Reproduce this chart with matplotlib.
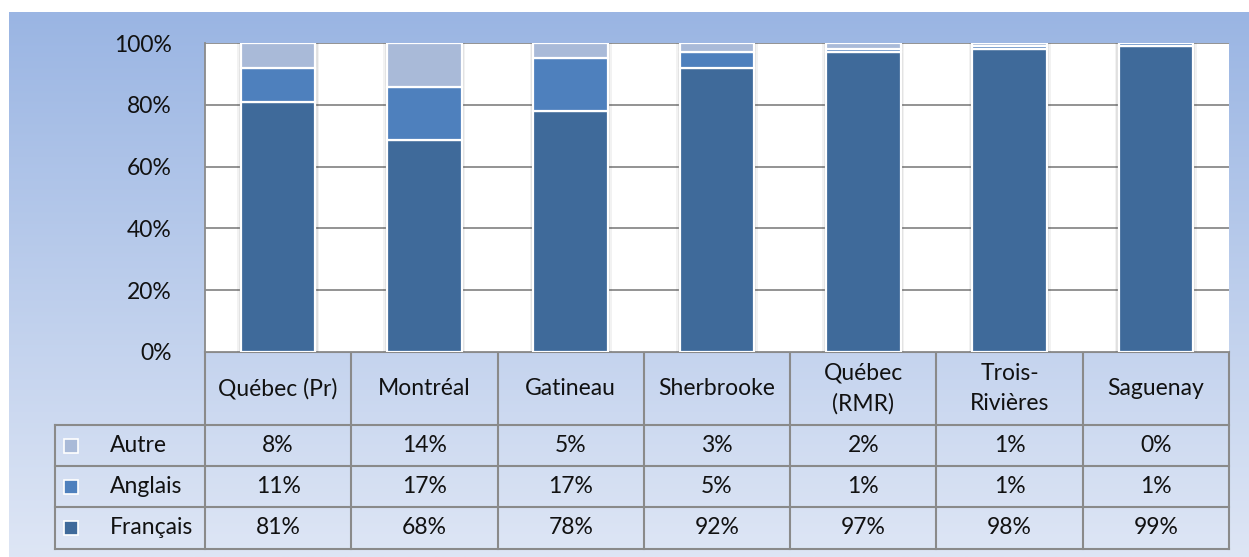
import numpy as np
import matplotlib
matplotlib.use("Agg")
import matplotlib.pyplot as plt
from matplotlib.patches import Rectangle

plt.rcParams['font.family'] = ['Lato', 'DejaVu Sans']

# ---- data ----
categories = ["Québec (Pr)", "Montréal", "Gatineau", "Sherbrooke",
              "Québec\n(RMR)", "Trois-\nRivières", "Saguenay"]
series_names = ["Autre", "Anglais", "Français"]
francais = [81, 68, 78, 92, 97, 98, 99]
anglais = [11, 17, 17, 5, 1, 1, 1]
autre = [8, 14, 5, 3, 2, 1, 0]
yticks = [0, 20, 40, 60, 80, 100]
ytick_labels = ["0%", "20%", "40%", "60%", "80%", "100%"]

colors = {"Français": "#3F6A9A", "Anglais": "#4E80BD", "Autre": "#A9BAD8"}

W, H = 1249, 557
fig = plt.figure(figsize=(W / 100, H / 100), dpi=100)
fig.patch.set_facecolor("white")

# background axes in pixel coordinates
bg = fig.add_axes([0, 0, 1, 1])
bg.set_xlim(0, W)
bg.set_ylim(H, 0)
bg.axis("off")
top_c = np.array([154, 181, 227]) / 255
bot_c = np.array([222, 230, 245]) / 255
t = np.linspace(0, 1, 256)[:, None]
grad = top_c[None, None, :] * (1 - t[:, :, None]) + bot_c[None, None, :] * t[:, :, None]
grad = np.repeat(grad, 2, axis=1)
bg.imshow(grad, extent=[9, W, H, 12], aspect="auto", zorder=0, interpolation="bilinear")

# main chart layout (pixels)
px_left, px_right = 205, 1229
px_top, px_bottom = 43, 352
ax = fig.add_axes([px_left / W, (H - px_bottom) / H,
                   (px_right - px_left) / W, (px_bottom - px_top) / H])
ax.set_facecolor("white")
n = len(categories)
x = np.arange(n)
ax.set_xlim(-0.5, n - 0.5)
ax.set_ylim(0, 100)

fr = np.array(francais, float)
an = np.array(anglais, float)
au = np.array(autre, float)
tot = fr + an + au
frn, ann, aun = fr / tot * 100, an / tot * 100, au / tot * 100

bw = 0.51
# soft shadow
for k, a in [(0.05, 0.05), (0.03, 0.07)]:
    ax.bar(x, 100, width=bw + k, color="black", alpha=a, zorder=2, linewidth=0)
ax.bar(x, frn, width=bw, color=colors["Français"], edgecolor="white", linewidth=1.6, zorder=3)
ax.bar(x, ann, width=bw, bottom=frn, color=colors["Anglais"], edgecolor="white", linewidth=1.6, zorder=3)
ax.bar(x, aun, width=bw, bottom=frn + ann, color=colors["Autre"], edgecolor="white", linewidth=1.6, zorder=3)

fs = 16.5
ax.set_yticks(yticks)
ax.set_yticklabels(ytick_labels, fontsize=fs, color="#111111")
ax.tick_params(axis="y", length=0, pad=24)
ax.set_xticks([])
ax.yaxis.grid(True, color="#8a8a8a", linewidth=1.3, zorder=1)
ax.set_axisbelow(True)
for s in ["top", "right", "bottom"]:
    ax.spines[s].set_visible(False)
ax.spines["left"].set_color("#8a8a8a")
ax.spines["left"].set_linewidth(1.3)

# ---- data table (pixel coordinates on bg axes) ----
lc = "#8a8a8a"
lw = 1.5
col_edges = np.linspace(px_left, px_right, n + 1)
row_edges = [352, 425, 466, 507, 549]
tbl_left = 55
bg.plot([px_left, px_right], [row_edges[0]] * 2, color=lc, lw=lw, zorder=5)
for yy in row_edges[1:]:
    bg.plot([tbl_left, px_right], [yy] * 2, color=lc, lw=lw, zorder=5)
for xx in col_edges:
    bg.plot([xx, xx], [row_edges[0], row_edges[-1]], color=lc, lw=lw, zorder=5)
bg.plot([tbl_left, tbl_left], [row_edges[1], row_edges[-1]], color=lc, lw=lw, zorder=5)

for i, c in enumerate(categories):
    cx = (col_edges[i] + col_edges[i + 1]) / 2
    cy = (row_edges[0] + row_edges[1]) / 2
    bg.text(cx, cy, c, ha="center", va="center", fontsize=fs, color="#111111",
            linespacing=1.5, zorder=6)

rows = [("Autre", autre), ("Anglais", anglais), ("Français", francais)]
for r, (name, vals) in enumerate(rows):
    cy = (row_edges[r + 1] + row_edges[r + 2]) / 2
    bg.add_patch(Rectangle((64, cy - 7), 14, 14, facecolor=colors[name],
                           edgecolor="white", linewidth=1.2, zorder=6))
    bg.text(110, cy, name, ha="left", va="center", fontsize=fs, color="#111111", zorder=6)
    for i, v in enumerate(vals):
        cx = (col_edges[i] + col_edges[i + 1]) / 2
        bg.text(cx, cy, f"{v}%", ha="center", va="center", fontsize=fs,
                color="#111111", zorder=6)

fig.savefig("out.png", dpi=100, facecolor=fig.get_facecolor())
